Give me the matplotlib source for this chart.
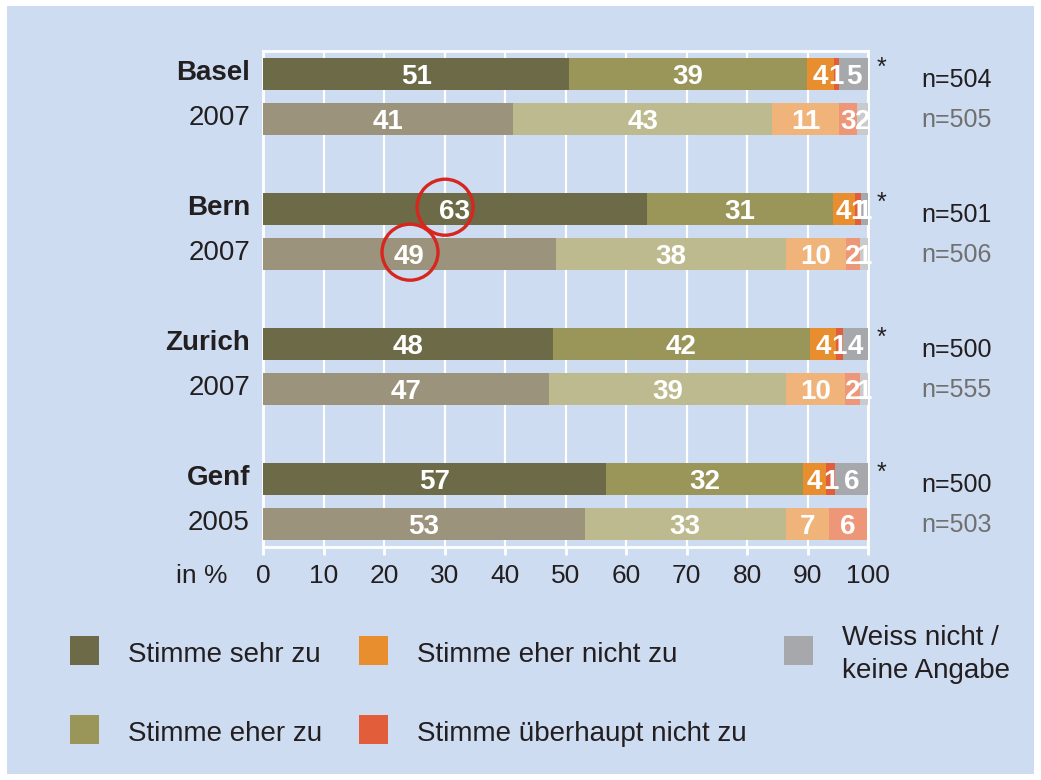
import matplotlib
matplotlib.use("Agg")
import matplotlib.pyplot as plt
from matplotlib.patches import Ellipse, Rectangle

plt.rcParams['font.family'] = ['Liberation Sans', 'DejaVu Sans']

# ---------------- data ----------------
row_labels = ["Basel", "2007", "Bern", "2007", "Zurich", "2007", "Genf", "2005"]
row_current = [True, False, True, False, True, False, True, False]
n_values = ["n=504", "n=505", "n=501", "n=506", "n=500", "n=555", "n=500", "n=503"]

categories = ["Stimme sehr zu", "Stimme eher zu", "Stimme eher nicht zu",
              "Stimme überhaupt nicht zu", "Weiss nicht /\nkeine Angabe"]

# segment widths (percent)
sehr_zu          = [50.6, 41.3, 63.4, 48.4, 47.9, 47.3, 56.7, 53.2]
eher_zu          = [39.3, 42.9, 30.8, 38.0, 42.5, 39.2, 32.6, 33.2]
eher_nicht_zu    = [4.4, 11.0, 3.6, 10.0, 4.3, 9.7, 3.8, 7.2]
ueberhaupt_nicht = [0.9, 3.0, 1.0, 2.3, 1.1, 2.5, 1.4, 6.2]
weiss_nicht      = [4.8, 1.8, 1.2, 1.3, 4.2, 1.3, 5.5, 0.0]

# printed value labels
lab_sehr_zu          = ["51", "41", "63", "49", "48", "47", "57", "53"]
lab_eher_zu          = ["39", "43", "31", "38", "42", "39", "32", "33"]
lab_eher_nicht_zu    = ["4", "11", "4", "10", "4", "10", "4", "7"]
lab_ueberhaupt_nicht = ["1", "3", "1", "2", "1", "2", "1", "6"]
lab_weiss_nicht      = ["5", "2", "1", "1", "4", "1", "6", ""]

x_ticks = [0, 10, 20, 30, 40, 50, 60, 70, 80, 90, 100]

# highlighted values (row index, x centre)
highlights = [(2, 30.1), (3, 24.3)]

# ---------------- styling ----------------
col_current = ["#6C6A47", "#9A9659", "#E88E2E", "#E25E3B", "#A7A8AB"]
col_previous = ["#9B937B", "#BCBA8E", "#F0B47A", "#EE9678", "#C9CACC"]
BG = "#CDDCF0"
TXT = "#231F20"

W, H = 1041, 780
fig = plt.figure(figsize=(W / 100, H / 100), dpi=100, facecolor="white")
fig.patches.append(Rectangle((7 / W, 6 / H), (W - 14) / W, (H - 12) / H,
                             transform=fig.transFigure, facecolor=BG,
                             edgecolor="none", zorder=-10))

def fx(px):
    return px / W

def fy(py):
    return 1 - py / H

ax = fig.add_axes([fx(263), fy(547), fx(868) - fx(263), (547 - 51) / H])
ax.set_facecolor("none")

ypos = [0, 1, 3, 4, 6, 7, 9, 10]
series = [sehr_zu, eher_zu, eher_nicht_zu, ueberhaupt_nicht, weiss_nicht]
labels = [lab_sehr_zu, lab_eher_zu, lab_eher_nicht_zu, lab_ueberhaupt_nicht, lab_weiss_nicht]

left = [0.0] * len(ypos)
for k, vals in enumerate(series):
    colors = [col_current[k] if c else col_previous[k] for c in row_current]
    ax.barh(ypos, vals, left=left, height=0.73, color=colors, edgecolor="none", zorder=3)
    for i, v in enumerate(vals):
        if labels[k][i]:
            ax.text(left[i] + v / 2, ypos[i] + 0.22, labels[k][i], ha="center",
                    va="baseline", color="white", fontsize=20, fontweight="bold", zorder=5)
    left = [l + v for l, v in zip(left, vals)]

ax.set_xlim(0, 100)
ax.set_ylim(10.511, -0.511)
ax.set_xticks(x_ticks)
ax.set_xticklabels([str(t) for t in x_ticks])
ax.tick_params(axis="x", colors="white", length=6, width=2, pad=6,
               labelsize=19, labelcolor=TXT)
ax.set_yticks([])
ax.xaxis.grid(True, color="white", lw=1.6, zorder=1)
ax.set_axisbelow(True)
for s in ax.spines.values():
    s.set_color("white")
    s.set_linewidth(2)
    s.set_zorder(2)

ytr = ax.get_yaxis_transform()
for i, y in enumerate(ypos):
    ax.text(-0.0215, y + 0.14, row_labels[i], transform=ytr, ha="right", va="baseline",
            fontsize=20, color=TXT, fontweight="bold" if row_current[i] else "normal")
    if row_current[i]:
        ax.text(102.3, y + 0.03, "*", ha="center", va="baseline", fontsize=18,
                color=TXT, clip_on=False)
        ax.text(114.7, y + 0.29, n_values[i], ha="center", va="baseline", fontsize=18,
                color=TXT, clip_on=False)
    else:
        ax.text(114.7, y + 0.18, n_values[i], ha="center", va="baseline", fontsize=18,
                color="#707070", clip_on=False)

ax.text(-0.058, -0.0726, "in %", transform=ax.transAxes, ha="right", va="baseline",
        fontsize=19, color=TXT)

for (ri, xc) in highlights:
    ax.add_patch(Ellipse((xc, ypos[ri] - 0.04), width=56 / 6.05, height=56 / 45,
                         fill=False, edgecolor="#D7261E", lw=2.4, zorder=6, clip_on=False))

# ---------------- legend ----------------
leg_pos = [(70, 636, 128, 662), (70, 715, 128, 741),
           (359, 636, 417, 662), (359, 715, 417, 741),
           (784, 636, 842, 645)]
for k, (sx, sy, tx, ty) in enumerate(leg_pos):
    fig.patches.append(Rectangle((fx(sx), fy(sy + 29)), 29 / W, 29 / H,
                                 transform=fig.transFigure, facecolor=col_current[k],
                                 edgecolor="none"))
    for j, line in enumerate(categories[k].split("\n")):
        fig.text(fx(tx), fy(ty + 33 * j), line, ha="left", va="baseline", fontsize=20,
                 color=TXT)

fig.savefig("out.png", dpi=100, facecolor="white")
